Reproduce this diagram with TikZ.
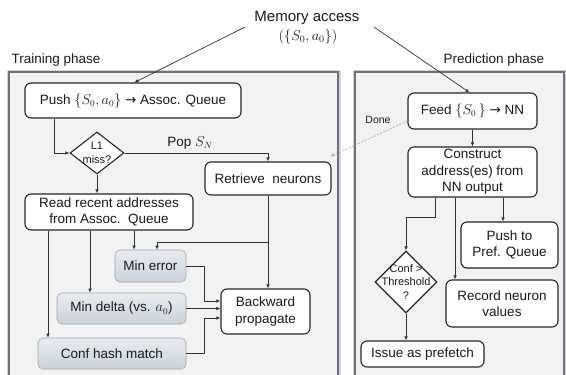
\documentclass[tikz,border=0pt]{standalone}
\usepackage{fontspec}
\setmainfont{Liberation Sans}
\newfontfamily\arrowfont{DejaVu Sans}
\newcommand{\rarr}{{\arrowfont →}}
\usetikzlibrary{shapes.geometric,arrows.meta,calc}
\definecolor{panelfill}{HTML}{F2F2F2}
\definecolor{panelborder}{HTML}{707070}
\definecolor{glowc}{HTML}{C9D7E6}
\definecolor{gtop}{HTML}{E8ECF1}
\definecolor{gbot}{HTML}{CBD2DB}
\definecolor{gborder}{HTML}{9CA5B0}
\definecolor{linec}{HTML}{333333}
\definecolor{textc}{HTML}{1A1A1A}
\definecolor{dashc}{HTML}{A8A8A8}
\begin{document}
\begin{tikzpicture}[x=1pt,y=-1pt,
  every node/.style={text=textc},
  mid/.style={font=\fontsize{13.5}{16.5}\selectfont},
  small/.style={font=\fontsize{11}{13.5}\selectfont, align=center},
  wbox/.style={draw=black!85, line width=1.1pt, fill=white, rounded corners=6pt,
    align=center, inner sep=0pt, mid},
  gbox/.style={draw=gborder, line width=0.6pt, top color=gtop, bottom color=gbot,
    rounded corners=5pt, align=center, inner sep=0pt, mid},
  dia/.style={diamond, draw=black!85, line width=1.1pt, fill=white, inner sep=0pt},
  arr/.style={draw=linec, line width=0.7pt, -{Latex[length=4pt,width=3.5pt]}},
  darr/.style={draw=dashc, line width=0.6pt, dashed, dash pattern=on 2pt off 1.5pt,
    -{Latex[length=4pt,width=3.5pt]}},
  glow/.style={draw=glowc, line width=5pt},
  panel/.style={draw=panelborder, fill=panelfill, line width=1.2pt}]
\useasboundingbox (0,0) rectangle (566,375);
\clip (0,0) rectangle (566,375);
\fill[white] (0,0) rectangle (566,375);
% panels
\draw[glow] (9,72) rectangle (338,392);
\draw[glow] (355,72) rectangle (564,392);
\draw[panel] (9,72) rectangle (338,392);
\draw[panel] (355,72) rectangle (564,392);
% titles
\node[font=\fontsize{15}{18}\selectfont] (mem) at (307,18) {Memory access};
\node[font=\fontsize{14.5}{17}\selectfont] (memsub) at (308,37) {$(\{S_0,a_0\})$};
\node[mid, anchor=west] (tp) at (8,60) {Training phase};
\node[mid] (pp) at (494,60) {Prediction phase};
% training nodes
\node[wbox, minimum width=216pt, minimum height=35pt] (push) at (133,100.5) {Push $\{S_0,a_0\}$ \rarr\ Assoc. Queue};
\node[dia, minimum width=54pt, minimum height=42pt] (l1) at (97,153) {};
\node[small] (l1t) at (l1) {L1\\miss?};
\node[wbox, minimum width=126pt, minimum height=33pt] (retr) at (268,178.5) {Retrieve\ \ neurons};
\node[wbox, minimum width=168pt, minimum height=36pt] (read) at (109,212) {Read recent addresses\\from Assoc.\ \ Queue};
\node[gbox, minimum width=71pt, minimum height=32pt] (minerr) at (150.5,266) {Min error};
\node[gbox, minimum width=129pt, minimum height=31pt] (mindelta) at (121.5,308.5) {Min delta (vs. $a_0$)};
\node[gbox, minimum width=148pt, minimum height=31pt] (conf) at (112,353.5) {Conf hash match};
\node[wbox, minimum width=89pt, minimum height=45pt] (back) at (265.5,311.5) {Backward\\propagate};
% prediction nodes
\node[wbox, minimum width=129pt, minimum height=36pt] (feed) at (472.5,111) {Feed $\{S_0\,\}$ \rarr\ NN};
\node[wbox, minimum width=129pt, minimum height=50pt] (constr) at (472.5,172) {Construct\\address(es) from\\NN output};
\node[wbox, minimum width=97pt, minimum height=46pt] (pushpref) at (509.5,245) {Push to\\Pref. Queue};
\node[dia, minimum width=62pt, minimum height=62pt] (thr) at (406,282) {};
\node[small] (thrt) at (thr) {Conf >\\Threshold\\?};
\node[wbox, minimum width=112pt, minimum height=47pt] (record) at (502,303.5) {Record neuron\\values};
\node[wbox, minimum width=123pt, minimum height=26pt] (issue) at (422.5,354) {Issue as prefetch};
\node[font=\fontsize{10.5}{12}\selectfont] (done) at (378,120) {Done};
% helper coordinates
\coordinate (m1) at (245,27);
\coordinate (m2) at (374,27);
\coordinate (xa) at (48,0);
\coordinate (xb) at (90,0);
\coordinate (xc) at (134,0);
\coordinate (xd) at (157,0);
\coordinate (xe) at (204,0);
\coordinate (br) at (0,242);
\coordinate (ya) at (0,301);
\coordinate (yc) at (0,318);
\coordinate (xf) at (435,0);
\coordinate (yf) at (0,217);
\coordinate (xg) at (455,0);
\coordinate (xh) at (503,0);
% connectors: memory access
\draw[arr] (m1) -- ($(push.north west)+(110,0)$);
\draw[arr] (m2) -- ($(feed.north west)+(62,0)$);
% training connectors
\draw[arr] ($(push.south west)+(30,0)$) |- (l1.west);
\draw[arr] (l1.east) -| (retr.north);
\node[mid] (pop) at (190,143) {Pop $S_N$};
\draw[arr] (l1.south) -- (l1.south |- read.north);
\draw[arr] (read.south -| xa) -- (conf.north -| xa);
\draw[arr] (read.south -| xb) -- (mindelta.north -| xb);
\draw[arr] (read.south -| xc) -- (minerr.north -| xc);
\draw[arr] (retr.south) -- (back.north -| retr.south);
\draw[arr] (retr.south |- br) -| (minerr.north -| xd);
\draw[arr] (minerr.east) -| (xe |- ya) -- (back.west |- ya);
\draw[arr] (mindelta.east) -- (mindelta.east -| back.west);
\draw[arr] (conf.east) -| (xe |- yc) -- (back.west |- yc);
% prediction connectors
\draw[arr] (feed.south) -- (constr.north);
\draw[darr] ($(feed.west)+(0,10)$) -- ($(retr.north east)+(-1,-5)$);
\draw[arr] (constr.south -| xf) |- (thr.north |- yf) -- (thr.north);
\draw[arr] (constr.south -| xg) -- (record.north -| xg);
\draw[arr] (constr.south -| xh) -- (pushpref.north -| xh);
\draw[arr] (thr.south) -- (issue.north -| thr.south);
\end{tikzpicture}
\end{document}
